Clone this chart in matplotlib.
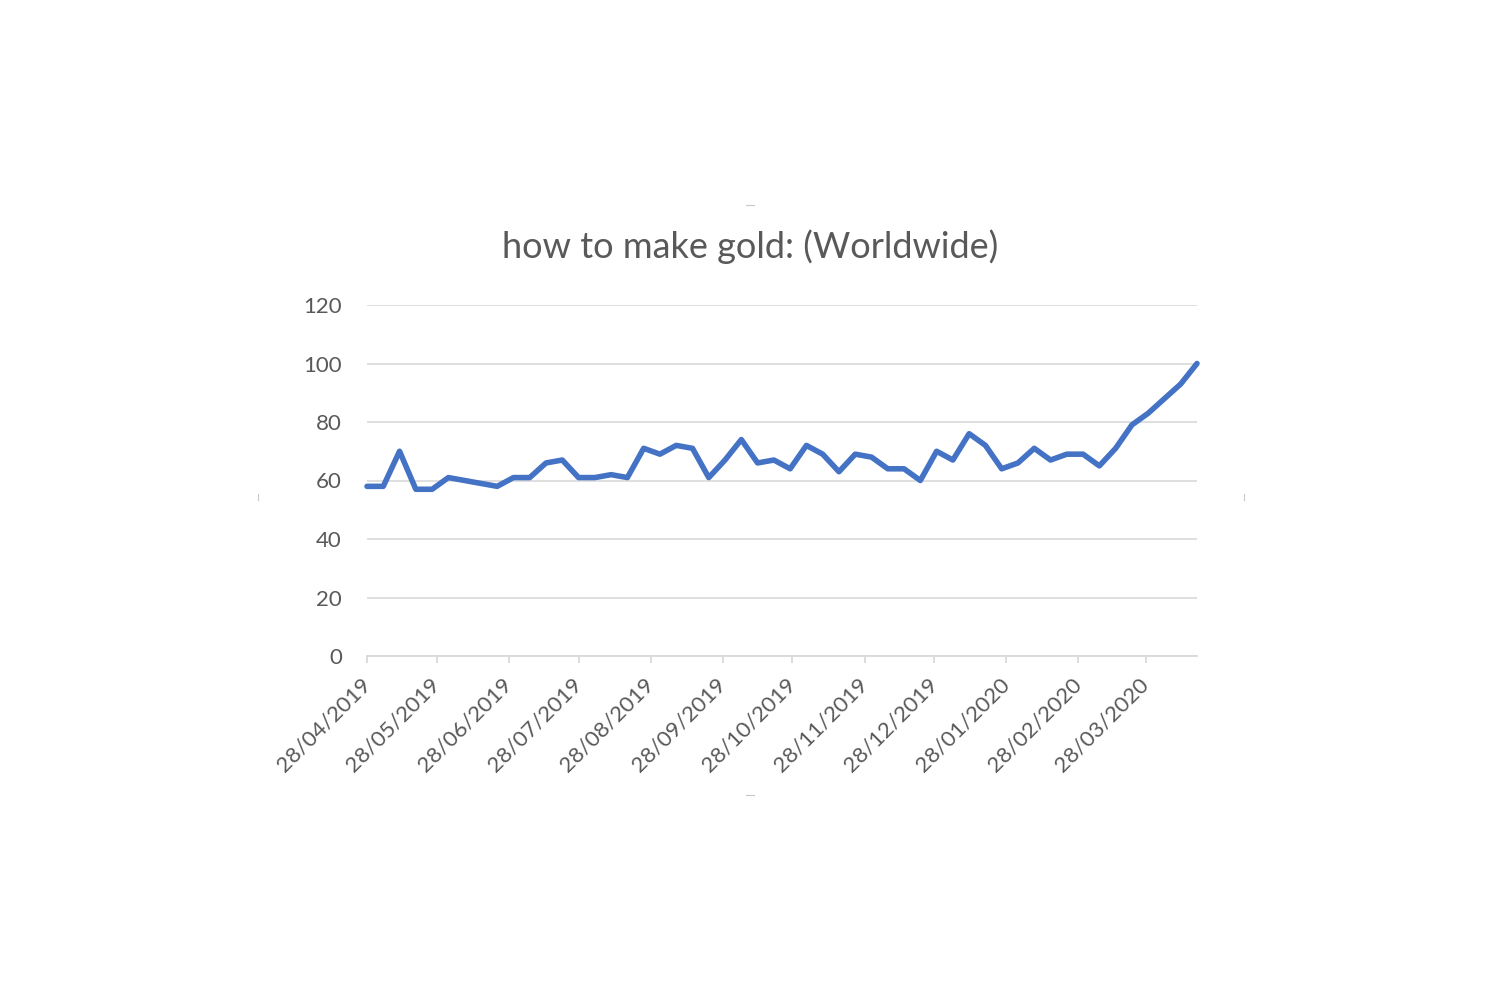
import matplotlib
matplotlib.use("Agg")
import matplotlib.pyplot as plt
import pandas as pd
from matplotlib.lines import Line2D

plt.rcParams['font.family'] = ['Lato', 'DejaVu Sans']

title = "how to make gold: (Worldwide)"
start_date = "2019-04-28"
values = [58, 58, 70, 57, 57, 61, 60, 59, 58, 61,
          61, 66, 67, 61, 61, 62, 61, 71, 69, 72,
          71, 61, 67, 74, 66, 67, 64, 72, 69, 63,
          69, 68, 64, 64, 60, 70, 67, 76, 72, 64,
          66, 71, 67, 69, 69, 65, 71, 79, 83, 88,
          93, 100]
tick_dates = ["2019-04-28", "2019-05-28", "2019-06-28", "2019-07-28",
              "2019-08-28", "2019-09-28", "2019-10-28", "2019-11-28",
              "2019-12-28", "2020-01-28", "2020-02-28", "2020-03-28"]
tick_labels = ["28/04/2019", "28/05/2019", "28/06/2019", "28/07/2019",
               "28/08/2019", "28/09/2019", "28/10/2019", "28/11/2019",
               "28/12/2019", "28/01/2020", "28/02/2020", "28/03/2020"]
y_ticks = [0, 20, 40, 60, 80, 100, 120]

dates = pd.date_range(start_date, periods=len(values), freq="7D")

fig = plt.figure(figsize=(15, 10), dpi=100)
ax = fig.add_axes([367/1500, 1-656/1000, (1197-367)/1500, (656-305)/1000])

grid_c = "#d9d9d9"
text_c = "#595959"

ax.plot(dates, values, color="#4472C4", lw=4.0, solid_joinstyle="round",
        solid_capstyle="round", zorder=3, clip_on=False)

ax.set_xlim(dates[0], dates[-1])
ax.set_ylim(0, 120)
ax.set_yticks(y_ticks)
ax.set_yticklabels([str(v) for v in y_ticks])
ax.yaxis.grid(True, color=grid_c, lw=1.2)
ax.set_axisbelow(True)

ax.set_xticks(pd.to_datetime(tick_dates))
ax.set_xticklabels(tick_labels, rotation=45, ha="right", va="center",
                   rotation_mode="anchor")

for s in ["top", "right", "left"]:
    ax.spines[s].set_visible(False)
ax.spines["bottom"].set_color(grid_c)
ax.spines["bottom"].set_linewidth(1.3)

ax.tick_params(axis="y", length=0, pad=18, labelsize=16, labelcolor=text_c)
ax.tick_params(axis="x", length=5, width=1.3, color=grid_c, direction="out",
               pad=13, labelsize=16, labelcolor=text_c)

fig.text(0.5, 1-247/1000, title, ha="center", va="center", fontsize=26,
         color=text_c)

# faint chart frame handles
hc = "#c8c8c8"
for (x0, x1, y0, y1) in [(746, 754, 205, 205), (746, 754, 795, 795),
                         (258, 258, 494, 500), (1244, 1244, 494, 500)]:
    fig.add_artist(Line2D([x0/1500, x1/1500], [1-y0/1000, 1-y1/1000],
                          color=hc, lw=0.8, transform=fig.transFigure))

fig.savefig("out.png", dpi=100, facecolor="white")
